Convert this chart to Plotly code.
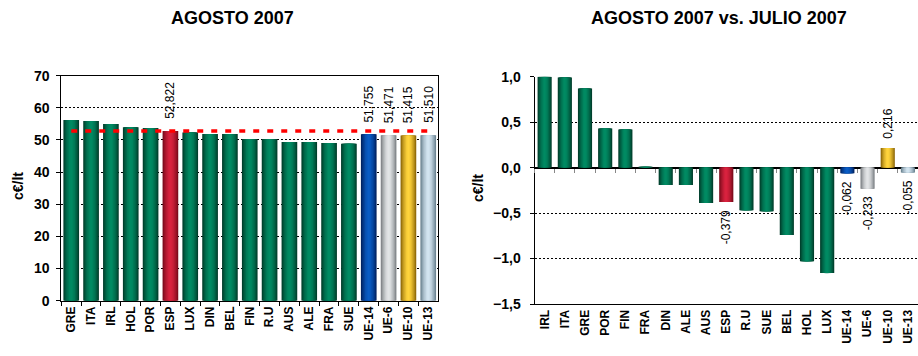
import plotly.graph_objects as go

# ---------------- DATA ----------------
left_categories = ["GRE", "ITA", "IRL", "HOL", "POR", "ESP", "LUX", "DIN", "BEL", "FIN",
                   "R.U", "AUS", "ALE", "FRA", "SUE", "UE-14", "UE-6", "UE-10", "UE-13"]
left_values = [56.2, 55.9, 55.0, 54.0, 53.7, 52.822, 52.3, 51.9, 51.9, 50.3,
               50.3, 49.4, 49.4, 49.1, 48.8, 51.755, 51.471, 51.415, 51.510]
left_labeled = ["ESP", "UE-14", "UE-6", "UE-10", "UE-13"]
reference_value = 52.822  # ESP level (red dashed line)

right_categories = ["IRL", "ITA", "GRE", "POR", "FIN", "FRA", "DIN", "ALE", "AUS", "ESP",
                    "R.U", "SUE", "BEL", "HOL", "LUX", "UE-14", "UE-6", "UE-10", "UE-13"]
right_values = [1.00, 0.99, 0.87, 0.43, 0.42, 0.01, -0.19, -0.19, -0.39, -0.379,
                -0.47, -0.48, -0.74, -1.03, -1.16, -0.062, -0.233, 0.216, -0.055]
right_labeled = ["ESP", "UE-14", "UE-6", "UE-10", "UE-13"]

left_yticks = [0, 10, 20, 30, 40, 50, 60, 70]
right_yticks = [-1.5, -1.0, -0.5, 0.0, 0.5, 1.0]

title_left = "AGOSTO 2007"
title_right = "AGOSTO 2007 vs. JULIO 2007"
y_title = "c€/lt"

# ---------------- STYLE ----------------
FONT = "Liberation Sans, Arial, sans-serif"
palette = {
    "green": ("#003c2a", "#008a62"),
    "red": ("#760a1a", "#d8223e"),
    "blue": ("#00205e", "#0a5cc4"),
    "gray": ("#7a7e82", "#e2e4e6"),
    "gold": ("#8a6406", "#ffd43c"),
    "lblue": ("#68808e", "#d2e4f0"),
}
special = {"ESP": "red", "UE-14": "blue", "UE-6": "gray", "UE-10": "gold", "UE-13": "lblue"}


def hex2rgb(h):
    h = h.lstrip("#")
    return tuple(int(h[i:i + 2], 16) for i in (0, 2, 4))


def blend(c1, c2, t):
    a, b = hex2rgb(c1), hex2rgb(c2)
    return "rgb(%d,%d,%d)" % tuple(round(a[i] + (b[i] - a[i]) * t) for i in range(3))


def fmt(v, d=3):
    return ("%.*f" % (d, v)).replace(".", ",")


# vertical placement helper: paper fraction for a target pixel row
H_EFF, TOP_OFF = 340.0, 8.0


def py(ypix):
    return 1 - (ypix - TOP_OFF) / H_EFF


layers = [(1.00, 0.0), (0.90, 0.2), (0.78, 0.4), (0.64, 0.6), (0.48, 0.78), (0.30, 0.92), (0.14, 1.0)]

fig = go.Figure()


def add_gradient_bars(cats, vals, bw, xa, ya):
    for frac, t in layers:
        cols = []
        for c in cats:
            dark, light = palette[special.get(c, "green")]
            cols.append(blend(dark, light, t))
        fig.add_trace(go.Bar(
            x=cats, y=vals, width=[bw * frac] * len(cats),
            marker=dict(color=cols, line=dict(width=0)),
            xaxis=xa, yaxis=ya, showlegend=False, hoverinfo="skip"))


add_gradient_bars(left_categories, left_values, 0.79, "x", "y")
add_gradient_bars(right_categories, right_values, 0.70, "x2", "y2")

# red dashed reference line
fig.add_trace(go.Scatter(
    x=left_categories, y=[reference_value] * len(left_categories), mode="lines",
    line=dict(color="#ff0000", width=3.5, dash="6px,8px"),
    xaxis="x", yaxis="y", showlegend=False, hoverinfo="skip"))

# invisible trace to carry zero-line tick marks on right chart
fig.add_trace(go.Scatter(
    x=right_categories, y=[0] * len(right_categories), mode="markers",
    marker=dict(opacity=0), xaxis="x3", yaxis="y2", showlegend=False, hoverinfo="skip"))

label_font = dict(family=FONT, size=12, color="black")
annotations = []
# data labels
for c, v in zip(left_categories, left_values):
    if c in left_labeled:
        annotations.append(dict(x=c, y=v, xref="x", yref="y", text=fmt(v), showarrow=False,
                                textangle=-90, xanchor="center", yanchor="bottom", yshift=10,
                                font=label_font))
for c, v in zip(right_categories, right_values):
    if c in right_labeled:
        annotations.append(dict(x=c, y=v, xref="x2", yref="y2", text=fmt(v), showarrow=False,
                                textangle=-90, xanchor="center",
                                yanchor="bottom" if v >= 0 else "top",
                                yshift=7 if v >= 0 else -6, font=label_font))
# titles
title_font = dict(family=FONT, size=18, color="black", weight="bold")
annotations.append(dict(x=232 / 918, y=py(18), xref="paper", yref="paper", text=title_left,
                        xanchor="center", yanchor="middle", showarrow=False, font=title_font))
annotations.append(dict(x=719 / 918, y=py(18), xref="paper", yref="paper", text=title_right,
                        xanchor="center", yanchor="middle", showarrow=False, font=title_font))
# y axis titles
ytitle_font = dict(family=FONT, size=14, color="black", weight="bold")
annotations.append(dict(x=18 / 918, y=py(186), xref="paper", yref="paper", text=y_title,
                        xanchor="center", yanchor="middle", showarrow=False, textangle=-90,
                        font=ytitle_font))
annotations.append(dict(x=478 / 918, y=py(188), xref="paper", yref="paper", text=y_title,
                        xanchor="center", yanchor="middle", showarrow=False, textangle=-90,
                        font=ytitle_font))

ydom_l = [py(300.7), py(75.7)]
ydom_r = [py(304), py(76.7)]
zero_pos = ydom_r[0] + (0 - right_yticks[0]) / (right_yticks[-1] - right_yticks[0]) * (ydom_r[1] - ydom_r[0])

tickfont_y = dict(family=FONT, size=14, color="black", weight="bold")
tickfont_x = dict(family=FONT, size=12, color="black", weight="bold")

fig.update_layout(
    width=918, height=356,
    margin=dict(l=0, r=0, t=0, b=0),
    paper_bgcolor="white", plot_bgcolor="white",
    barmode="overlay", separators=",.",
    font=dict(family=FONT, color="black"),
    annotations=annotations,
    xaxis=dict(domain=[0.0668, 0.4773], anchor="y", type="category",
               categoryorder="array", categoryarray=left_categories,
               tickangle=-90, tickfont=tickfont_x,
               ticks="outside", ticklen=4, tickcolor="black", tickson="boundaries",
               showline=True, linecolor="black", linewidth=1, mirror=True,
               showgrid=False, range=[-0.5, len(left_categories) - 0.5]),
    yaxis=dict(domain=ydom_l, anchor="x", range=[0, 70], tickvals=left_yticks,
               tickfont=tickfont_y,
               ticks="outside", ticklen=4, tickcolor="black", ticklabelstandoff=4,
               showline=True, linecolor="black", linewidth=1, mirror=True,
               showgrid=True, gridcolor="black", gridwidth=1, griddash="2px,2px",
               zeroline=False),
    xaxis2=dict(domain=[0.5823, 1.0], anchor="y2", type="category",
                categoryorder="array", categoryarray=right_categories,
                tickangle=-90, tickfont=tickfont_x,
                ticks="", showline=True, linecolor="black", linewidth=1,
                showgrid=False, range=[-0.5, len(right_categories) - 0.5]),
    xaxis3=dict(overlaying="x2", anchor="free", position=zero_pos, type="category",
                categoryorder="array", categoryarray=right_categories,
                showticklabels=False, ticks="outside", ticklen=4, tickcolor="#888888",
                tickson="boundaries", showline=False, showgrid=False,
                range=[-0.5, len(right_categories) - 0.5]),
    yaxis2=dict(domain=ydom_r, anchor="x2", range=[-1.5, 1.0], tickvals=right_yticks,
                tickformat=".1f", tickfont=tickfont_y,
                ticks="outside", ticklen=4, tickcolor="black", ticklabelstandoff=6,
                showline=True, linecolor="black", linewidth=1,
                showgrid=True, gridcolor="black", gridwidth=1, griddash="2px,2px",
                zeroline=True, zerolinecolor="black", zerolinewidth=1.5),
)

fig.write_html("out.html", config={"displayModeBar": False},
               post_script="document.body.style.margin='0';document.body.style.overflow='hidden';")
